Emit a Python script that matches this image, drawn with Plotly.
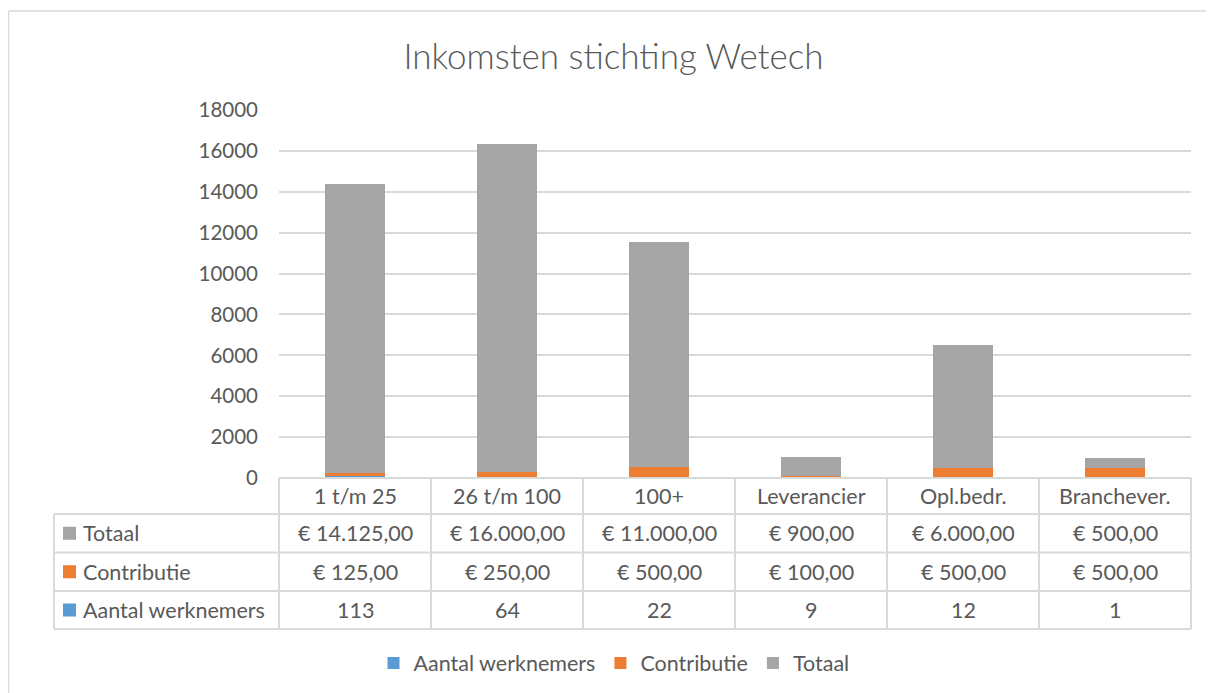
import plotly.graph_objects as go

# ---------------- data ----------------
categories = ["1 t/m 25", "26 t/m 100", "100+", "Leverancier", "Opl.bedr.", "Branchever."]
aantal_werknemers = [113, 64, 22, 9, 12, 1]
contributie = [125, 250, 500, 100, 500, 500]
totaal = [14125, 16000, 11000, 900, 6000, 500]
series_names = ["Aantal werknemers", "Contributie", "Totaal"]
y_ticks = [0, 2000, 4000, 6000, 8000, 10000, 12000, 14000, 16000, 18000]

# ---------------- style ----------------
SW, SH = 1214, 693          # screenshot size
OX, OY = 8, 8               # page body margin offset
W, H = SW - OX, SH - OY
PL, PR, PT, PB = 279, 1191, 110, 478          # plot area in screenshot pixels
COLORS = {"Aantal werknemers": "#5B9BD5", "Contributie": "#ED7D31", "Totaal": "#A5A5A5"}
TXT = "#595959"
GRID = "#D9D9D9"
FONT = "Lato"
FS = 20.5
FS_TAB = 21.5


def px_x(px):
    return (px - PL) / (PR - PL)


def px_y(py):
    return (PB - py) / (PB - PT)


def euro(v):
    s = f"{v:,.2f}".replace(",", "X").replace(".", ",").replace("X", ".")
    return "€ " + s


fig = go.Figure()
series_vals = {"Aantal werknemers": aantal_werknemers, "Contributie": contributie, "Totaal": totaal}
for name in series_names:
    fig.add_trace(go.Bar(x=categories, y=series_vals[name], name=name,
                         marker=dict(color=COLORS[name], line=dict(width=0))))

shapes = []
annotations = []

# table row boundaries (screenshot pixels)
row_lines = [478, 514, 552.5, 591, 629]
row_centers = [(row_lines[i] + row_lines[i + 1]) / 2 for i in range(4)]
left_edge = 54

# horizontal lines
shapes.append(dict(type="line", xref="paper", yref="paper", x0=0, x1=1,
                   y0=px_y(row_lines[0]), y1=px_y(row_lines[0]), line=dict(color=GRID, width=2)))
for yl in row_lines[1:]:
    shapes.append(dict(type="line", xref="paper", yref="paper", x0=px_x(left_edge), x1=1,
                       y0=px_y(yl), y1=px_y(yl), line=dict(color=GRID, width=2)))
# vertical lines
shapes.append(dict(type="line", xref="paper", yref="paper", x0=px_x(left_edge), x1=px_x(left_edge),
                   y0=px_y(row_lines[1]), y1=px_y(row_lines[-1]), line=dict(color=GRID, width=2)))
for xv in [0, 1]:
    shapes.append(dict(type="line", xref="paper", yref="paper", x0=xv, x1=xv,
                       y0=px_y(row_lines[0]), y1=px_y(row_lines[-1]), line=dict(color=GRID, width=2)))
for i in range(len(categories) - 1):
    shapes.append(dict(type="line", xref="x", yref="paper", x0=i + 0.5, x1=i + 0.5,
                       y0=px_y(row_lines[0]), y1=px_y(row_lines[-1]), line=dict(color=GRID, width=2)))

# category row
for c in categories:
    annotations.append(dict(x=c, y=px_y(row_centers[0]), xref="x", yref="paper", text=c,
                            showarrow=False, font=dict(family=FONT, size=FS_TAB, color=TXT),
                            xanchor="center", yanchor="middle"))

# data rows: Totaal, Contributie, Aantal werknemers
table_rows = [("Totaal", [euro(v) for v in totaal]),
              ("Contributie", [euro(v) for v in contributie]),
              ("Aantal werknemers", [str(v) for v in aantal_werknemers])]
for r, (name, cells) in enumerate(table_rows):
    yc = row_centers[r + 1]
    shapes.append(dict(type="rect", xref="paper", yref="paper",
                       x0=px_x(63), x1=px_x(76), y0=px_y(yc - 6.5), y1=px_y(yc + 6.5),
                       fillcolor=COLORS[name], line=dict(width=0)))
    annotations.append(dict(x=px_x(81), y=px_y(yc), xref="paper", yref="paper", text=name,
                            showarrow=False, font=dict(family=FONT, size=FS_TAB, color=TXT),
                            xanchor="left", yanchor="middle"))
    for c, t in zip(categories, cells):
        annotations.append(dict(x=c, y=px_y(yc), xref="x", yref="paper", text=t,
                                showarrow=False, font=dict(family=FONT, size=FS_TAB, color=TXT),
                                xanchor="center", yanchor="middle"))

# outer chart border (left and top visible)
shapes.append(dict(type="line", xref="paper", yref="paper", x0=px_x(8.5), x1=px_x(8.5),
                   y0=px_y(11), y1=px_y(720), line=dict(color=GRID, width=1.5)))
shapes.append(dict(type="line", xref="paper", yref="paper", x0=px_x(8.5), x1=px_x(1240),
                   y0=px_y(11), y1=px_y(11), line=dict(color=GRID, width=1.5)))

fig.update_layout(
    width=W, height=H,
    margin=dict(l=PL - OX, r=SW - PR, t=PT - OY, b=SH - PB, pad=0, autoexpand=False),
    paper_bgcolor="white", plot_bgcolor="white",
    barmode="stack", bargap=0.6,
    font=dict(family=FONT, size=FS, color=TXT),
    title=dict(text="Inkomsten stichting Wetech", x=(613.5 - OX) / W, xref="container", xanchor="center",
               y=1 - (57 - OY) / H, yref="container", yanchor="middle",
               font=dict(family=FONT, size=35, color=TXT, weight=300)),
    xaxis=dict(showticklabels=False, showgrid=False, zeroline=False, showline=False,
               ticks="", range=[-0.5, len(categories) - 0.5]),
    yaxis=dict(range=[0, 18000], tickvals=y_ticks, ticktext=[str(v) for v in y_ticks],
               showgrid=True, gridcolor=GRID, gridwidth=1.5, zeroline=False, showline=False,
               ticks="", ticklabelstandoff=20,
               tickfont=dict(family=FONT, size=FS, color=TXT)),
    legend=dict(orientation="h", x=px_x(614), xref="paper", xanchor="center",
                y=px_y(663), yanchor="middle", traceorder="normal",
                font=dict(family=FONT, size=FS_TAB, color=TXT), itemclick=False),
    shapes=shapes, annotations=annotations,
    showlegend=True,
)

fig.write_html("out.html")
